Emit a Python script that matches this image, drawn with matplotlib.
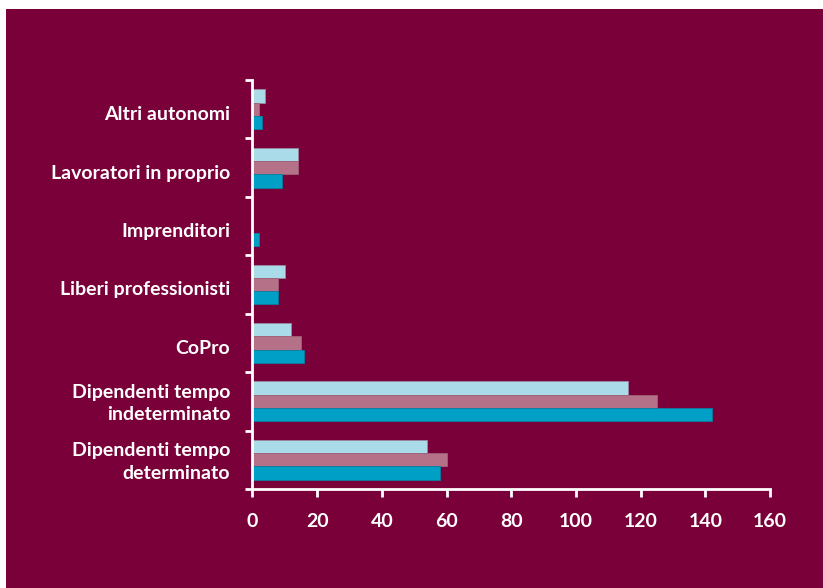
import matplotlib
matplotlib.use("Agg")
import matplotlib.pyplot as plt
import matplotlib.transforms as mtransforms
from matplotlib.patches import Rectangle
import numpy as np

# categorie dal basso verso l'alto
categorie = [
    "Dipendenti tempo\ndeterminato",
    "Dipendenti tempo\nindeterminato",
    "CoPro",
    "Liberi professionisti",
    "Imprenditori",
    "Lavoratori in proprio",
    "Altri autonomi",
]
serie_a = [54, 116, 12, 10, 0, 14, 4]    # azzurro chiaro
serie_b = [60, 125, 15, 8, 0, 14, 2]     # malva
serie_c = [58, 142, 16, 8, 2, 9, 3]      # blu petrolio
x_ticks = [0, 20, 40, 60, 80, 100, 120, 140, 160]

SFONDO = "#7a0039"
colori = ["#a9dbe8", "#b57187", "#00a0c6"]
bordi = ["#9a8aa2", "#a0607a", "#0a7ea0"]

plt.rcParams["font.family"] = ["Lato", "DejaVu Sans"]
plt.rcParams["font.weight"] = "bold"

fig = plt.figure(figsize=(8.23, 5.88), dpi=100, facecolor="white")
fig.patches.append(Rectangle((6 / 823, 0), 1, 1 - 9 / 588,
                             transform=fig.transFigure, facecolor=SFONDO,
                             edgecolor="none", zorder=-10))

ax = fig.add_axes([252.5 / 823, 1 - 489 / 588, (770 - 252.5) / 823, (489 - 80) / 588])
ax.set_facecolor("none")

y = np.arange(len(categorie))
h = 0.228
for k, (vals, col, bc) in enumerate(zip([serie_a, serie_b, serie_c], colori, bordi)):
    ax.barh(y + (1 - k) * h, vals, height=h, color=col, edgecolor=bc,
            linewidth=0.6, zorder=2)

ax.set_xlim(0, 160)
ax.set_ylim(-0.5, len(categorie) - 0.5)

for s in ["top", "right"]:
    ax.spines[s].set_visible(False)
for s in ["left", "bottom"]:
    ax.spines[s].set_color("white")
    ax.spines[s].set_linewidth(2)

ax.set_xticks(x_ticks)
ax.set_xticklabels([str(v) for v in x_ticks])
ax.tick_params(axis="x", colors="white", length=6, width=2, pad=11,
               labelsize=14)

# tacche sull'asse y ai confini tra i gruppi, etichette a metà
ax.set_yticks(np.arange(-0.5, len(categorie)), minor=False)
ax.set_yticklabels([])
ax.tick_params(axis="y", which="major", colors="white", length=5, width=2)
ax.set_yticks(y, minor=True)
etichette = ax.set_yticklabels(categorie, minor=True, ha="right", linespacing=1.4)
ax.tick_params(axis="y", which="minor", length=0, pad=16, labelsize=14,
               labelcolor="white")

# piccolo aggiustamento verticale delle etichette
for t in etichette:
    dy = 2 if "\n" in t.get_text() else -4
    t.set_transform(t.get_transform() +
                    mtransforms.ScaledTranslation(0, dy / 100, fig.dpi_scale_trans))

fig.savefig("out.png", dpi=100, facecolor=fig.get_facecolor())
